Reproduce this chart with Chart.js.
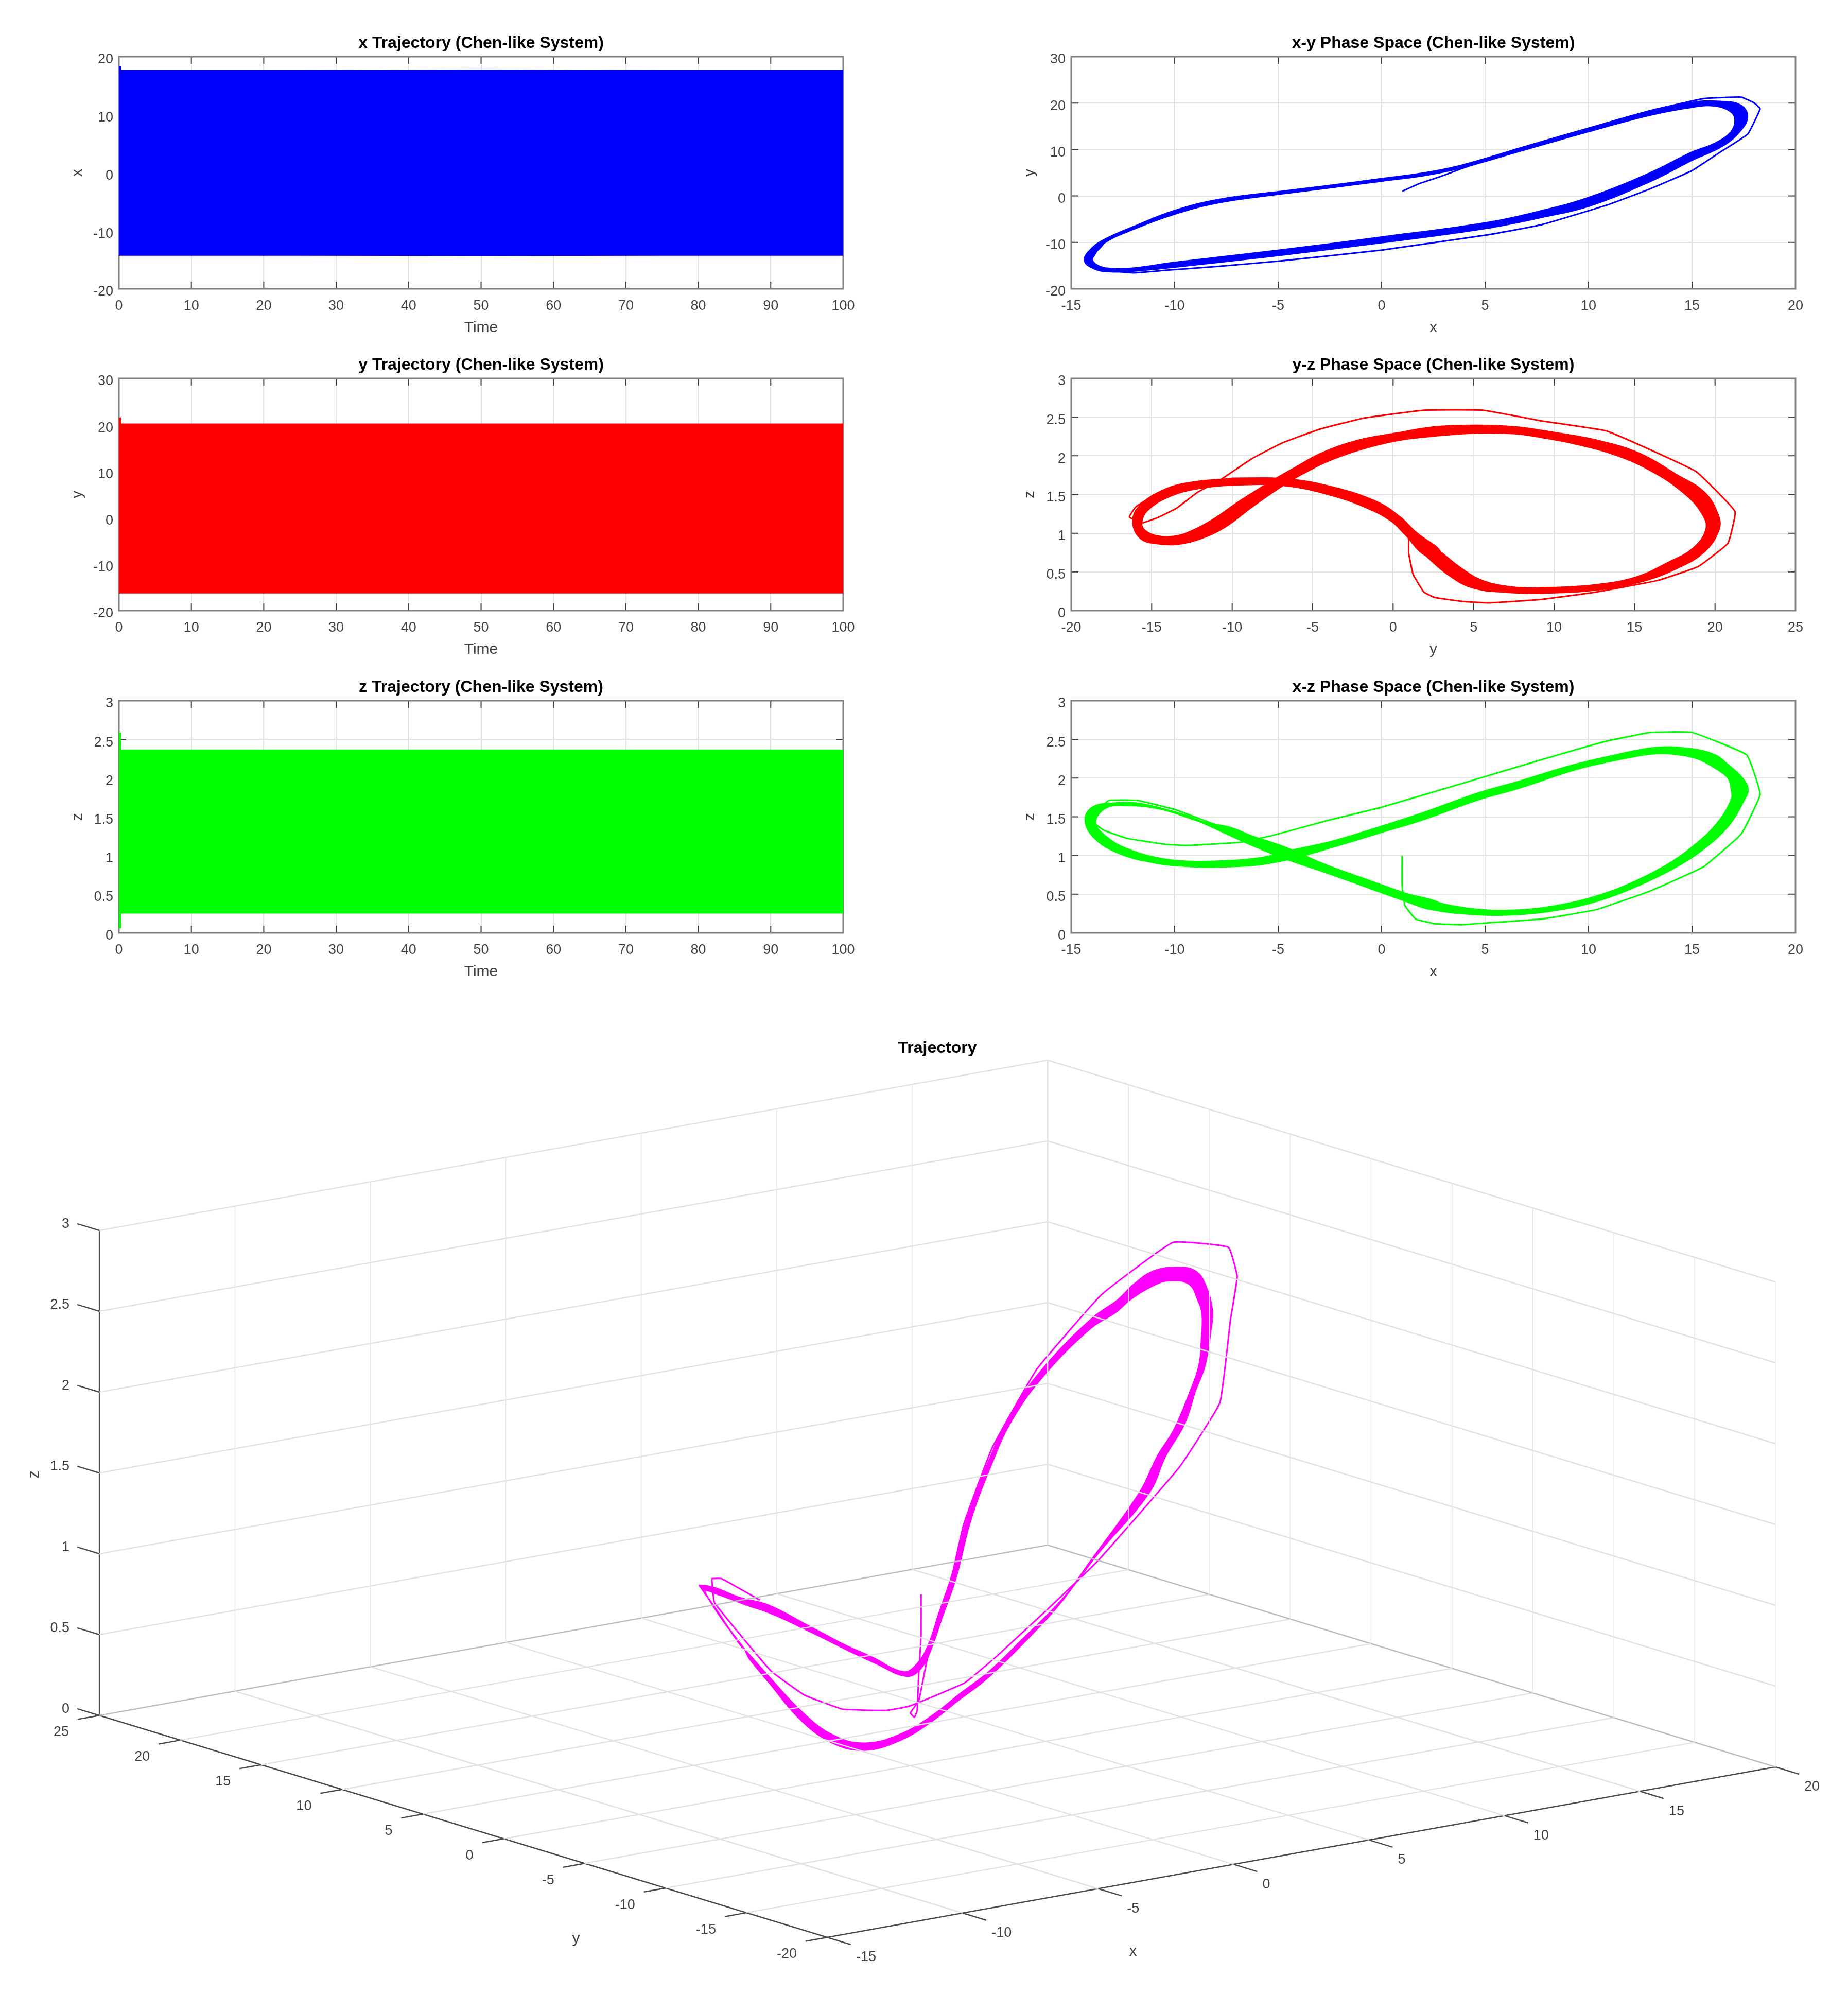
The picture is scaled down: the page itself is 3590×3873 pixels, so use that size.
<!DOCTYPE html>
<html>
<head>
<meta charset="utf-8">
<title>Chen-like System</title>
<script src="https://cdn.jsdelivr.net/npm/chart.js@4/dist/chart.umd.min.js"></script>
<style>
  html, body { margin: 0; background: #fff; }
  #page { position: relative; width: 3590px; height: 3873px; overflow: hidden; background: #fff; }
  canvas { position: absolute; }
</style>
</head>
<body>
<div id="page"></div>
<script>
// time series: the oscillation is too dense to separate, so the upper and lower peaks are kept
const timeEnvelope = [0, 0.3, 0.31, 25, 50, 75, 100];
const xUpper = [18.4, 18.4, 17.7, 17.7, 17.75, 17.7, 17.7];
const xLower = [-14.3, -14.3, -14.3, -14.3, -14.35, -14.3, -14.3];
const yUpper = [21.6, 21.6, 20.3, 20.3, 20.3, 20.3, 20.3];
const yLower = [-16.3, -16.3, -16.3, -16.3, -16.3, -16.3, -16.3];
const zUpper = [2.59, 2.59, 2.37, 2.37, 2.37, 2.37, 2.37];
const zLower = [0.06, 0.06, 0.25, 0.25, 0.25, 0.25, 0.25];

// x-y phase space
const xyOuterX = [-14.36, -14.1, -13.45, -12.02, -10.02, -7.86, -5, -2.65, 0, 2.03, 3.85, 6.45, 10.02, 12.96, 15.04, 16.34, 17.33, 17.69, 17.38, 16.47, 14.99, 12.96, 10.02, 7.75, 5, 0, -5, -10.02, -12.02, -13.06, -13.84];
const xyOuterY = [-14.05, -11.65, -9.46, -6.61, -3.11, -0.7, 0.96, 2.23, 3.77, 4.99, 6.65, 10.03, 14.62, 18.35, 20.23, 20.4, 19.66, 17.25, 14.19, 10.68, 7.62, 3.02, -2.23, -4.64, -7.05, -10.11, -12.87, -15.37, -16.24, -16.37, -15.81];
const xyInnerX = [-13.97, -13.45, -12.02, -10.02, -7.86, -5, -2.65, 0, 2.03, 3.85, 6.45, 10.02, 12.96, 15.04, 16.08, 16.86, 17.07, 16.86, 16.08, 14.99, 12.96, 10.02, 7.75, 5, 0, -5, -10.02, -12.02, -13.06, -13.71];
const xyInnerY = [-13.4, -10.33, -7.27, -3.98, -1.49, 0.31, 1.62, 3.15, 4.33, 6, 9.28, 13.84, 17.34, 19.09, 19.35, 18.13, 16.37, 13.75, 11.34, 9.46, 4.99, -0.26, -3.11, -5.74, -8.8, -11.65, -14.27, -15.5, -15.59, -14.93];
const xyStartX = [1, 1.77, 2.81, 3.85, 5.15, 6.45, 10, 13, 15.56, 17.38, 17.98, 18.29, 17.69, 16.34, 14.99, 12.96, 11, 7.75, 5.15, 0, -5, -7.86, -10.46, -12.02, -13.5, -14.3];
const xyStartY = [1, 2.58, 4.12, 5.87, 7.84, 10, 14.6, 18.4, 20.97, 21.28, 20.1, 18.78, 13.31, 9.37, 5.43, 1.49, -1.8, -6.17, -8.36, -11.65, -14.05, -15.15, -16.02, -16.55, -15.9, -14];

// y-z phase space
const yzOuterY = [0.74, 2.07, 3.41, 4.92, 7.09, 9.26, 12.61, 15.28, 17.63, 19.3, 20.23, 20.13, 19.3, 17.63, 15.28, 12.61, 9.93, 7.59, 5.25, 2.58, 0.23, -2.11, -4.45, -6.12, -7.46, -9.46, -11.14, -12.47, -13.48, -14.65, -15.42, -15.65, -15.32, -13.98, -12.14, -9.46, -6.79, -4.11, -1.61, -0.1];
const yzOuterZ = [0.99, 0.71, 0.47, 0.3, 0.24, 0.23, 0.27, 0.37, 0.55, 0.76, 1.05, 1.26, 1.53, 1.75, 2.03, 2.2, 2.3, 2.37, 2.39, 2.37, 2.29, 2.2, 2.03, 1.84, 1.68, 1.42, 1.18, 1.03, 0.96, 0.96, 1.03, 1.13, 1.29, 1.47, 1.58, 1.63, 1.62, 1.51, 1.33, 1.16];
const yzInnerY = [1.4, 2.91, 4.25, 5.59, 7.42, 9.26, 12.61, 15.12, 17.12, 18.63, 19.46, 19.2, 18.03, 15.95, 13.61, 11.27, 9.26, 7.59, 5.25, 2.58, 0.23, -2.11, -4.11, -5.45, -6.79, -8.8, -10.47, -12.14, -13.48, -14.65, -15.65, -16.15, -15.82, -14.31, -12.31, -9.46, -6.79, -4.11, -1.1, 0.4];
const yzInnerZ = [1.01, 0.76, 0.54, 0.38, 0.3, 0.29, 0.33, 0.43, 0.62, 0.8, 1.05, 1.26, 1.53, 1.82, 2.03, 2.16, 2.24, 2.29, 2.3, 2.26, 2.2, 2.08, 1.93, 1.79, 1.63, 1.34, 1.08, 0.92, 0.86, 0.87, 0.93, 1.13, 1.33, 1.55, 1.66, 1.7, 1.7, 1.61, 1.41, 1.21];
const yzStartY = [0.97, 0.97, 1.24, 1.91, 2.58, 4.25, 5.92, 9.26, 12.61, 16.45, 18.96, 20.8, 21.24, 18.8, 13.28, 9.26, 5.59, 1.91, -1.77, -4.62, -6.96, -8.8, -10.8, -12.14, -13.48, -14.65, -15.65, -16.39, -15.99, -14.82, -12.64, -9.97, -7.46];
const yzStartZ = [1, 0.74, 0.47, 0.24, 0.17, 0.12, 0.1, 0.145, 0.24, 0.39, 0.57, 0.87, 1.28, 1.8, 2.32, 2.45, 2.59, 2.59, 2.49, 2.34, 2.16, 1.96, 1.68, 1.53, 1.32, 1.2, 1.13, 1.21, 1.34, 1.49, 1.63, 1.71, 1.71];

// x-z phase space
const xzOuterX = [0.99, 2.55, 4.63, 6.45, 8.27, 10.36, 12.44, 14.26, 15.56, 16.73, 17.51, 17.69, 17.38, 16.73, 16.08, 14.78, 13.22, 11.4, 9.32, 6.71, 4.63, 2.03, -0.05, -2.39, -4.22, -5.78, -7.34, -9.16, -10.72, -12.28, -13.32, -13.84, -13.32, -12.28, -10.98, -9.42, -7.86, -6.3, -4.74, -2.65, -0.57];
const xzOuterZ = [0.43, 0.3, 0.24, 0.24, 0.29, 0.41, 0.62, 0.86, 1.09, 1.38, 1.72, 1.86, 2.01, 2.17, 2.3, 2.38, 2.39, 2.3, 2.17, 1.96, 1.8, 1.55, 1.37, 1.18, 1.07, 0.97, 0.93, 0.92, 0.96, 1.08, 1.24, 1.43, 1.62, 1.65, 1.62, 1.51, 1.33, 1.14, 0.97, 0.78, 0.58];
const xzInnerX = [1.12, 2.81, 4.63, 6.45, 8.27, 10.36, 12.31, 14, 15.17, 16.21, 16.91, 16.91, 16.73, 16.08, 15.3, 14.52, 13.22, 11.4, 9.32, 6.71, 4.63, 2.03, -0.05, -2.39, -4.22, -5.78, -7.34, -9.16, -10.98, -12.67, -13.84, -14.31, -13.97, -13.06, -11.76, -10.2, -8.64, -7.34, -6.3, -4.74, -2.65, -0.57];
const xzInnerZ = [0.51, 0.38, 0.3, 0.29, 0.34, 0.47, 0.67, 0.91, 1.14, 1.41, 1.72, 1.86, 2.01, 2.14, 2.25, 2.3, 2.32, 2.24, 2.11, 1.88, 1.72, 1.47, 1.3, 1.11, 0.97, 0.89, 0.86, 0.86, 0.91, 1.03, 1.22, 1.45, 1.62, 1.67, 1.67, 1.57, 1.43, 1.36, 1.25, 1.11, 0.87, 0.67];
const xzStartX = [0.99, 0.99, 1.12, 1.64, 2.55, 3.85, 5.15, 7.75, 10.36, 12.96, 15.56, 17.38, 18.29, 17.64, 14.99, 12.96, 10.75, 7.75, 4.63, -0.05, -2.65, -5.26, -6.82, -9.42, -10.46, -12.28, -13.45, -14.1, -13.19, -11.76, -9.94, -7.86];
const xzStartZ = [1, 0.62, 0.355, 0.18, 0.12, 0.105, 0.13, 0.18, 0.3, 0.54, 0.855, 1.28, 1.79, 2.3, 2.59, 2.59, 2.47, 2.24, 1.99, 1.62, 1.45, 1.26, 1.17, 1.13, 1.145, 1.22, 1.33, 1.47, 1.71, 1.71, 1.59, 1.38];

// 3D trajectory
const loopAX = [-14.2, -13.6, -12.5, -11, -9.5, -7.86, -6.3, -4.74, -2.65, -0.57, 1.1, 2.8, 4.63, 6.45, 8.27, 10.36, 12.4, 14.2, 15.5, 16.5, 17.2, 17.4, 17.2, 16.48, 15.83, 15.24, 14, 12.61, 11.57, 10.25, 9.1, 7.8, 6.78, 4.63, 2, 0, -2.4, -4.2, -5.8, -7.3, -9.2, -10.9, -12.4, -13.4, -14.1];
const loopAY = [-13.8, -12.2, -9, -5.5, -2.9, -1.1, 0, 0.8, 1.9, 3.1, 4.2, 5.1, 7.3, 9.65, 12.1, 14.7, 17.2, 18.9, 19.7, 19.2, 17.5, 16.3, 15, 12.56, 10, 7.88, 5.18, 2.44, 0.78, -1.06, -2.4, -3.9, -4.45, -7, -8.3, -9.5, -10.9, -11.9, -12.8, -13.7, -14.9, -15.5, -16, -15.7, -15];
const loopAZ = [1.54, 1.54, 1.61, 1.6, 1.49, 1.37, 1.23, 1.11, 0.89, 0.67, 0.51, 0.34, 0.27, 0.265, 0.315, 0.44, 0.645, 0.885, 1.115, 1.4, 1.72, 1.86, 2, 2.18, 2.3, 2.36, 2.39, 2.36, 2.33, 2.2, 2.12, 2, 1.85, 1.76, 1.51, 1.33, 1.18, 1.07, 1.01, 0.955, 0.93, 0.94, 1.05, 1.22, 1.42];
const loopBX = [-14.05, -13.5, -12.4, -10.9, -9.4, -7.8, -6.2, -4.7, -2.6, -0.5, 1.1, 2.8, 4.6, 6.4, 8.2, 10.3, 12.3, 14, 15.2, 16.1, 16.8, 16.9, 16.6, 16.38, 15.89, 15.09, 13.84, 13.08, 12.2, 11.36, 10.15, 8.54, 7.46, 5.45, 1.6, -0.3, -2.6, -4.4, -6, -7.5, -9.4, -11.1, -12.6, -13.6, -14.2];
const loopBY = [-13.6, -12.4, -9.4, -5.9, -3.1, -1.3, -0.2, 0.6, 1.7, 2.9, 4, 4.9, 7, 9.4, 11.8, 14.4, 16.9, 18.5, 19.2, 18.7, 17, 15.6, 14.2, 12.39, 10.58, 8.03, 5.39, 3.85, 2.42, 1.16, -0.25, -2, -2.82, -5.06, -8.5, -9.7, -11.1, -12.1, -13, -13.9, -15.1, -15.7, -16.2, -15.9, -15.2];
const loopBZ = [1.5, 1.5, 1.53, 1.525, 1.46, 1.33, 1.19, 1.06, 0.85, 0.635, 0.48, 0.32, 0.255, 0.25, 0.3, 0.42, 0.62, 0.86, 1.09, 1.36, 1.68, 1.82, 1.95, 2.1, 2.2, 2.28, 2.3, 2.28, 2.2, 2.1, 2, 1.88, 1.78, 1.68, 1.48, 1.3, 1.15, 1.04, 0.98, 0.925, 0.9, 0.91, 1.02, 1.19, 1.39];
const startX = [1, 1, 1.05, 1.4, 1.7, 2.55, 3.85, 5.15, 7.75, 10.36, 12.96, 15.56, 17.38, 18.29, 17.64, 14.99, 12.96, 10.75, 7.75, 4.63, -0.05, -2.65, -5.26, -6.82, -9.42, -10.46, -12.28, -13.45, -14.1, -13.19, -11.76, -9.94, -7.86, -6.88];
const startY = [1, 1, 1.24, 1.91, 2.58, 4.25, 5.92, 7.84, 11.7, 15, 18.4, 21, 21.28, 18.8, 13.3, 5.43, 1.49, -1.8, -6.17, -8.9, -11.65, -13, -14.1, -14.8, -15.7, -16, -16.39, -16, -15, -10, -7.46, -4.4, -1.5, -2.23];
const startZ = [1, 0.74, 0.47, 0.24, 0.17, 0.12, 0.105, 0.13, 0.18, 0.3, 0.54, 0.855, 1.28, 1.79, 2.3, 2.59, 2.59, 2.49, 2.2, 1.98, 1.62, 1.45, 1.26, 1.17, 1.13, 1.145, 1.22, 1.33, 1.47, 1.71, 1.71, 1.59, 1.44, 1.3];

// ticks of the 3D box
const ticks3dX = [-15, -10, -5, 0, 5, 10, 15, 20];
const ticks3dY = [-20, -15, -10, -5, 0, 5, 10, 15, 20, 25];
const ticks3dZ = [0, 0.5, 1, 1.5, 2, 2.5, 3];

const FONT = "'Liberation Sans', Arial, Helvetica, sans-serif";
const TICK_COLOR = "#404040";
const GRID_COLOR = "#e2e2e2";
Chart.defaults.font.family = FONT;

const page = document.getElementById("page");

function addCanvas(left, top, width, height) {
  const canvas = document.createElement("canvas");
  canvas.width = width;
  canvas.height = height;
  canvas.style.left = left + "px";
  canvas.style.top = top + "px";
  canvas.style.width = width + "px";
  canvas.style.height = height + "px";
  page.appendChild(canvas);
  return canvas;
}

function toPoints(xs, ys) {
  return xs.map((x, i) => ({ x: x, y: ys[i] }));
}

// closed band between two traced edges of the thick part of the orbit;
// each edge runs one step past its own start so the curve has no kink at the seam
function ringPoints(a, b) {
  const back = [b[1], b[0]].concat(b.slice(1).reverse(), [b[0]]);
  return a.concat([a[0], a[1]], back);
}

function bandDataset(points, color, edge) {
  return { data: points, showLine: true, fill: "shape", backgroundColor: color, borderColor: color, borderWidth: edge, borderJoinStyle: "round", pointRadius: 0, tension: 0.4 };
}

function thinDataset(points, color) {
  return { data: points, showLine: true, fill: false, borderColor: color, borderWidth: 3, borderJoinStyle: "round", pointRadius: 0, tension: 0.1 };
}

function envelopeDatasets(times, upper, lower, color) {
  return [
    { data: toPoints(times, upper), showLine: true, fill: "+1", backgroundColor: color, borderWidth: 0, pointRadius: 0, tension: 0 },
    { data: toPoints(times, lower), showLine: true, fill: false, borderWidth: 0, pointRadius: 0, tension: 0 },
  ];
}

function cleanLabel(value) {
  return String(+value.toFixed(2));
}

// reference tick labels on the vertical axis sit slightly under their tick
function nudgeTickLabels(scale) {
  if (scale.nudged) return;
  scale.nudged = true;
  const base = scale.getLabelItems;
  scale.getLabelItems = function (area) {
    return base.call(this, area).map((item) => Object.assign({}, item, { textOffset: item.textOffset + 6 }));
  };
}

// box and inward ticks, under the data like the MATLAB axes layer
const boxPlugin = {
  id: "boxPlugin",
  beforeDatasetsDraw(chart) {
    const { ctx, chartArea: a, scales } = chart;
    ctx.save();
    ctx.strokeStyle = "#3c3c3c";
    ctx.lineWidth = 2;
    ctx.beginPath();
    scales.x.ticks.forEach((t) => {
      const px = scales.x.getPixelForValue(t.value);
      ctx.moveTo(px, a.bottom);
      ctx.lineTo(px, a.bottom - 14);
      ctx.moveTo(px, a.top);
      ctx.lineTo(px, a.top + 14);
    });
    scales.y.ticks.forEach((t) => {
      const py = scales.y.getPixelForValue(t.value);
      ctx.moveTo(a.left, py);
      ctx.lineTo(a.left + 14, py);
      ctx.moveTo(a.right, py);
      ctx.lineTo(a.right - 14, py);
    });
    ctx.stroke();
    ctx.strokeStyle = "#808080";
    ctx.lineWidth = 3;
    ctx.strokeRect(a.left, a.top, a.right - a.left, a.bottom - a.top);
    ctx.restore();
  },
};

function addPanel(plotLeft, plotTop, cfg) {
  const plotW = 1407, plotH = 451, leftSpace = 130, topSpace = 80, rightSpace = 50, bottomSpace = 102;
  const canvas = addCanvas(plotLeft - leftSpace, plotTop - topSpace, plotW + leftSpace + rightSpace, plotH + topSpace + bottomSpace);
  new Chart(canvas, {
    type: "scatter",
    data: { datasets: cfg.datasets },
    plugins: [boxPlugin],
    options: {
      responsive: false,
      animation: false,
      devicePixelRatio: 1,
      events: [],
      layout: { padding: { right: rightSpace } },
      plugins: {
        legend: { display: false },
        tooltip: { enabled: false },
        title: {
          display: true,
          text: cfg.title,
          fullSize: false,
          color: "#000",
          font: { size: 32, weight: "bold", lineHeight: 1 },
          padding: { top: 38, bottom: 10 },
        },
      },
      scales: {
        x: {
          type: "linear",
          min: cfg.xRange[0],
          max: cfg.xRange[1],
          afterFit: (s) => { s.height = bottomSpace; },
          border: { display: false },
          grid: { color: GRID_COLOR, lineWidth: 2, drawTicks: false },
          ticks: { stepSize: cfg.xStep, padding: 17, color: TICK_COLOR, font: { size: 27 }, maxRotation: 0, callback: cleanLabel },
          title: { display: true, text: cfg.xLabel, color: TICK_COLOR, font: { size: 30 }, padding: { top: 0, bottom: 8 } },
        },
        y: {
          type: "linear",
          min: cfg.yRange[0],
          max: cfg.yRange[1],
          afterFit: (s) => { s.width = leftSpace; },
          afterUpdate: nudgeTickLabels,
          border: { display: false },
          grid: { color: GRID_COLOR, lineWidth: 2, drawTicks: false },
          ticks: { stepSize: cfg.yStep, padding: 11, color: TICK_COLOR, font: { size: 27 }, callback: cleanLabel },
          title: { display: true, text: cfg.yLabel, color: TICK_COLOR, font: { size: 30 }, padding: { top: 32, bottom: 0 } },
        },
      },
    },
  });
}

const LEFT_COL = 231, RIGHT_COL = 2081;
const ROW_1 = 110, ROW_2 = 735, ROW_3 = 1361;

addPanel(LEFT_COL, ROW_1, { title: "x Trajectory (Chen-like System)", xLabel: "Time", yLabel: "x", xRange: [0, 100], xStep: 10, yRange: [-20, 20], yStep: 10, datasets: envelopeDatasets(timeEnvelope, xUpper, xLower, "#0000ff") });
addPanel(LEFT_COL, ROW_2, { title: "y Trajectory (Chen-like System)", xLabel: "Time", yLabel: "y", xRange: [0, 100], xStep: 10, yRange: [-20, 30], yStep: 10, datasets: envelopeDatasets(timeEnvelope, yUpper, yLower, "#ff0000") });
addPanel(LEFT_COL, ROW_3, { title: "z Trajectory (Chen-like System)", xLabel: "Time", yLabel: "z", xRange: [0, 100], xStep: 10, yRange: [0, 3], yStep: 0.5, datasets: envelopeDatasets(timeEnvelope, zUpper, zLower, "#00ff00") });

addPanel(RIGHT_COL, ROW_1, { title: "x-y Phase Space (Chen-like System)", xLabel: "x", yLabel: "y", xRange: [-15, 20], xStep: 5, yRange: [-20, 30], yStep: 10, datasets: [
  bandDataset(ringPoints(toPoints(xyOuterX, xyOuterY), toPoints(xyInnerX, xyInnerY)), "#0000ff", 2),
  thinDataset(toPoints(xyStartX, xyStartY), "#0000ff"),
] });
addPanel(RIGHT_COL, ROW_2, { title: "y-z Phase Space (Chen-like System)", xLabel: "y", yLabel: "z", xRange: [-20, 25], xStep: 5, yRange: [0, 3], yStep: 0.5, datasets: [
  bandDataset(ringPoints(toPoints(yzOuterY, yzOuterZ), toPoints(yzInnerY, yzInnerZ)), "#ff0000", 4),
  thinDataset(toPoints(yzStartY, yzStartZ), "#ff0000"),
] });
addPanel(RIGHT_COL, ROW_3, { title: "x-z Phase Space (Chen-like System)", xLabel: "x", yLabel: "z", xRange: [-15, 20], xStep: 5, yRange: [0, 3], yStep: 0.5, datasets: [
  bandDataset(ringPoints(toPoints(xzOuterX, xzOuterZ), toPoints(xzInnerX, xzInnerZ)), "#00ff00", 4),
  thinDataset(toPoints(xzStartX, xzStartZ), "#00ff00"),
] });

// 3D view: orthographic, fitted on the corners of the box, in page pixels
function project(x, y, z) {
  return {
    x: 1607 + (x + 15) * 52.63 - (y + 20) * 31.42,
    y: 3763 - (x + 15) * 9.457 - (y + 20) * 9.578 - z * 314,
  };
}

function project3d(xs, ys, zs) {
  return xs.map((x, i) => project(x, ys[i], zs[i]));
}

function line3d(from, to, color, width) {
  return {
    data: [project(from[0], from[1], from[2]), project(to[0], to[1], to[2])],
    showLine: true,
    fill: false,
    borderColor: color,
    borderWidth: width,
    pointRadius: 0,
  };
}

function boxDatasets() {
  const out = [];
  const xMin = ticks3dX[0], xMax = ticks3dX[ticks3dX.length - 1];
  const yMin = ticks3dY[0], yMax = ticks3dY[ticks3dY.length - 1];
  const zMax = ticks3dZ[ticks3dZ.length - 1];
  ticks3dX.forEach((x) => {
    if (x > xMin && x < xMax) out.push(line3d([x, yMin, 0], [x, yMax, 0], GRID_COLOR, 2.5));
    if (x > xMin) out.push(line3d([x, yMax, 0], [x, yMax, zMax], "#e6e6e6", 1.5));
  });
  ticks3dY.forEach((y) => {
    if (y > yMin && y < yMax) out.push(line3d([xMin, y, 0], [xMax, y, 0], GRID_COLOR, 2.5));
    if (y < yMax) out.push(line3d([xMax, y, 0], [xMax, y, zMax], "#e6e6e6", 1.5));
  });
  ticks3dZ.forEach((z) => {
    if (z > 0) {
      out.push(line3d([xMin, yMax, z], [xMax, yMax, z], GRID_COLOR, 2.5));
      out.push(line3d([xMax, yMin, z], [xMax, yMax, z], GRID_COLOR, 2.5));
    }
  });
  // back edges of the floor and the corner post
  out.push(line3d([xMin, yMax, 0], [xMax, yMax, 0], "#bdbdbd", 2.5));
  out.push(line3d([xMax, yMin, 0], [xMax, yMax, 0], "#bdbdbd", 2.5));
  out.push(line3d([xMax, yMax, 0], [xMax, yMax, zMax], "#cfcfcf", 2.5));
  // the three axes and their ticks
  const axisColor = "#4a4a4a";
  out.push(line3d([xMin, yMax, 0], [xMin, yMax, zMax], axisColor, 2.5));
  out.push(line3d([xMin, yMin, 0], [xMin, yMax, 0], axisColor, 2.5));
  out.push(line3d([xMin, yMin, 0], [xMax, yMin, 0], axisColor, 2.5));
  ticks3dX.forEach((x) => out.push(line3d([x, yMin, 0], [x, yMin - 1.46, 0], axisColor, 2.5)));
  ticks3dY.forEach((y) => out.push(line3d([xMin, y, 0], [xMin - 0.8, y, 0], axisColor, 2.5)));
  ticks3dZ.forEach((z) => out.push(line3d([xMin, yMax, z], [xMin, yMax + 1.37, z], axisColor, 2.5)));
  return out;
}

const labels3dPlugin = {
  id: "labels3dPlugin",
  afterDatasetsDraw(chart) {
    const { ctx, scales } = chart;
    const text = (str, p, dx, dy, align) => {
      ctx.textAlign = align;
      ctx.fillText(str, scales.x.getPixelForValue(p.x) + dx, scales.y.getPixelForValue(p.y) + dy);
    };
    const xMin = ticks3dX[0];
    const yMin = ticks3dY[0], yMax = ticks3dY[ticks3dY.length - 1];
    ctx.save();
    ctx.textBaseline = "middle";
    ctx.fillStyle = TICK_COLOR;
    ctx.font = "27px " + FONT;
    ticks3dX.forEach((x) => text(String(x), project(x, yMin, 0), 56, 39, "left"));
    ticks3dY.forEach((y) => text(String(y), project(xMin, y, 0), -59, 33, "right"));
    ticks3dZ.forEach((z) => text(String(z), project(xMin, yMax, z), -58, -12, "right"));
    ctx.font = "30px " + FONT;
    ctx.textAlign = "center";
    ctx.fillText("x", scales.x.getPixelForValue(2201), scales.y.getPixelForValue(3791));
    ctx.fillText("y", scales.x.getPixelForValue(1119), scales.y.getPixelForValue(3766));
    ctx.translate(scales.x.getPixelForValue(67), scales.y.getPixelForValue(2864));
    ctx.rotate(-Math.PI / 2);
    ctx.fillText("z", 0, 0);
    ctx.restore();
  },
};

// the title box takes 72px on top and the left padding centres it over the box,
// so the hidden scales start there and stay in page pixels
const TITLE_3D_HEIGHT = 72, TITLE_3D_SHIFT = 52;

new Chart(addCanvas(0, 1980, 3590, 1893), {
  type: "scatter",
  data: {
    datasets: boxDatasets().concat([
      bandDataset(ringPoints(project3d(loopAX, loopAY, loopAZ), project3d(loopBX, loopBY, loopBZ)), "#ff00ff", 3),
      thinDataset(project3d(startX, startY, startZ), "#ff00ff"),
    ]),
  },
  plugins: [labels3dPlugin],
  options: {
    responsive: false,
    animation: false,
    devicePixelRatio: 1,
    events: [],
    layout: { padding: { left: TITLE_3D_SHIFT } },
    plugins: {
      legend: { display: false },
      tooltip: { enabled: false },
      title: { display: true, text: "Trajectory", color: "#000", fullSize: false, font: { size: 32, weight: "bold", lineHeight: 1 }, padding: { top: 40, bottom: 0 } },
    },
    scales: {
      x: { type: "linear", display: false, min: TITLE_3D_SHIFT, max: 3590 },
      y: { type: "linear", display: false, min: 1980 + TITLE_3D_HEIGHT, max: 3873, reverse: true },
    },
  },
});
</script>
</body>
</html>
